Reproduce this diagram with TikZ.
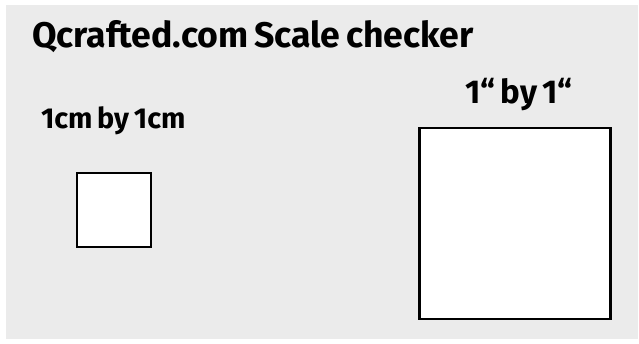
\documentclass[tikz,border=0pt]{standalone}
\usepackage{fontspec}
\setmainfont{Fira Sans}[WordSpace=0.7]
\usepackage{tikz}
\usetikzlibrary{positioning}
\definecolor{sheetgray}{RGB}{235,235,235}
\tikzset{inner sep=0pt, outer sep=0pt,
	heading/.style={anchor=base west, font=\fontsize{35.6}{40}\selectfont\bfseries},
	sizelabel/.style={anchor=base west, font=\fontsize{28.8}{32}\selectfont\bfseries},
	checkbox/.style={draw, line width=2.4pt, fill=white},
}

\begin{document}
\begin{tikzpicture}[x=1pt,y=-1pt]
			\useasboundingbox (0,0) rectangle (639,343);
			\fill[sheetgray] (6,5) rectangle (638,339);
			\node[heading] (title) at (32,47) {Qcrafted.com Scale checker};
			\node[sizelabel] (cmlabel) at (41,128) {1cm by 1cm};
			\node[sizelabel, font=\fontsize{33}{38}\selectfont\bfseries] (inlabel) at (465,103) {1“ by 1“};
			\node[checkbox, minimum size=74pt] (cmbox) at (114,210) {};
			\node[checkbox, minimum size=191pt] (inbox) at (515,223.5) {};
		\end{tikzpicture}
\end{document}
